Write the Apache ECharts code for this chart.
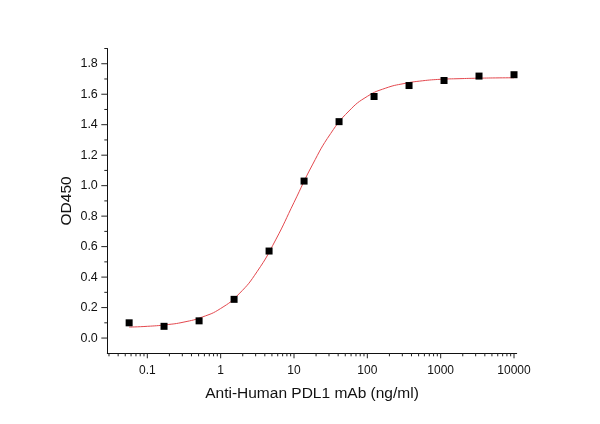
<!DOCTYPE html>
<html>
<head>
<meta charset="utf-8">
<script src="https://cdn.jsdelivr.net/npm/echarts@6/dist/echarts.min.js"></script>
<style>
html,body{margin:0;padding:0;background:#fff;}
#c{width:600px;height:424px;}
</style>
</head>
<body>
<div id="c"></div>
<script>
// Measured points (3-fold dilution series)
const concentrations = [0.0565, 0.169, 0.508, 1.524, 4.572, 13.72, 41.15, 123.5, 370.4, 1111, 3333, 10000];
const od450 = [0.100, 0.077, 0.113, 0.254, 0.571, 1.030, 1.420, 1.585, 1.657, 1.690, 1.719, 1.728];

// Fitted curve
const curveX = [0.0565, 0.1, 0.178, 0.316, 0.562, 1, 1.78, 3.16, 5.62, 10, 17.8, 31.6, 56.2, 100, 178, 316, 562, 1000, 1780, 3160, 5620, 10000];
const curveY = [0.072, 0.077, 0.087, 0.105, 0.138, 0.194, 0.290, 0.438, 0.644, 0.890, 1.136, 1.342, 1.490, 1.586, 1.640, 1.670, 1.688, 1.698, 1.702, 1.705, 1.707, 1.708];

// Axis ranges and tick values
const xRange = [0.02846, 10880];
const yRange = [-0.1, 1.9];
const xMajorTicks = [0.1, 1, 10, 100, 1000, 10000];
const xMinorTicks = [0.03,0.04,0.05,0.06,0.07,0.08,0.09,
  0.2,0.3,0.4,0.5,0.6,0.7,0.8,0.9,
  2,3,4,5,6,7,8,9,
  20,30,40,50,60,70,80,90,
  200,300,400,500,600,700,800,900,
  2000,3000,4000,5000,6000,7000,8000,9000];
const yMajorTicks = [0, 0.2, 0.4, 0.6, 0.8, 1.0, 1.2, 1.4, 1.6, 1.8];
const yMinorTicks = [0.1, 0.3, 0.5, 0.7, 0.9, 1.1, 1.3, 1.5, 1.7, 1.9];

const FONT = '"Liberation Sans", Arial, sans-serif';
const TICK_COLOR = '#222';

function xTickSeries(values, len) {
  return {
    type: 'custom', clip: false, silent: true, z: 5,
    data: values.map(v => [v, 1]),
    renderItem: function (params, api) {
      const cs = params.coordSys;
      const px = api.coord([api.value(0), 1])[0];
      const py = cs.y + cs.height;
      return { type: 'line', shape: { x1: px, y1: py, x2: px, y2: py + len },
        style: { stroke: TICK_COLOR, lineWidth: 1 } };
    }
  };
}
function yTickSeries(values, len) {
  return {
    type: 'custom', clip: false, silent: true, z: 5,
    data: values.map(v => [1, v]),
    renderItem: function (params, api) {
      const cs = params.coordSys;
      const py = api.coord([1, api.value(1)])[1];
      const px = cs.x;
      return { type: 'line', shape: { x1: px, y1: py, x2: px - len, y2: py },
        style: { stroke: TICK_COLOR, lineWidth: 1 } };
    }
  };
}

const chart = echarts.init(document.getElementById('c'), null, { renderer: 'canvas' });
chart.setOption({
  animation: false,
  backgroundColor: '#fff',
  textStyle: { fontFamily: FONT },
  grid: { left: 107.3, right: 83.3, top: 48.5, bottom: 70.7, containLabel: false },
  xAxis: {
    type: 'log', logBase: 10, min: xRange[0], max: xRange[1],
    name: 'Anti-Human PDL1 mAb (ng/ml)', nameLocation: 'middle', nameGap: 32,
    nameMoveOverlap: false,
    nameTextStyle: { fontFamily: FONT, fontSize: 15.5, color: '#111' },
    axisLine: { show: true, onZero: false, lineStyle: { color: '#111', width: 1 } },
    axisTick: { show: false },
    splitLine: { show: false },
    minorTick: { show: false },
    axisLabel: {
      fontFamily: FONT, fontSize: 12, color: '#111', margin: 11,
      showMinLabel: false, showMaxLabel: false,
      formatter: function (v) {
        const lg = Math.log10(v);
        const r = Math.round(lg);
        if (Math.abs(lg - r) > 1e-6) return '';
        return r < 0 ? Math.pow(10, r).toFixed(-r) : String(Math.round(Math.pow(10, r)));
      }
    }
  },
  yAxis: {
    type: 'value', min: yRange[0], max: yRange[1], splitNumber: 10,
    name: 'OD450', nameLocation: 'middle', nameGap: 33, nameRotate: 90,
    nameMoveOverlap: false,
    nameTextStyle: { fontFamily: FONT, fontSize: 15.5, color: '#111' },
    axisLine: { show: true, onZero: false, lineStyle: { color: '#111', width: 1 } },
    axisTick: { show: false },
    splitLine: { show: false },
    axisLabel: {
      fontFamily: FONT, fontSize: 12.5, color: '#111', margin: 9.5,
      showMinLabel: false, showMaxLabel: false,
      formatter: function (v) {
        const k = Math.round(v * 10);
        if (Math.abs(k % 2) === 1 || v < -1e-9) return '';
        return (Math.abs(v) < 1e-9 ? 0 : v).toFixed(1);
      }
    }
  },
  series: [
    {
      type: 'line', smooth: true, showSymbol: false, z: 2,
      data: curveX.map((x, i) => [x, curveY[i]]),
      lineStyle: { color: '#e4484e', width: 1 }
    },
    {
      type: 'scatter', symbol: 'rect', symbolSize: 7, z: 3,
      data: concentrations.map((x, i) => [x, od450[i]]),
      itemStyle: { color: '#000', opacity: 1 }
    },
    xTickSeries(xMajorTicks, 5),
    xTickSeries(xMinorTicks, 3),
    yTickSeries(yMajorTicks, 6),
    yTickSeries(yMinorTicks, 3)
  ]
});
</script>
</body>
</html>
